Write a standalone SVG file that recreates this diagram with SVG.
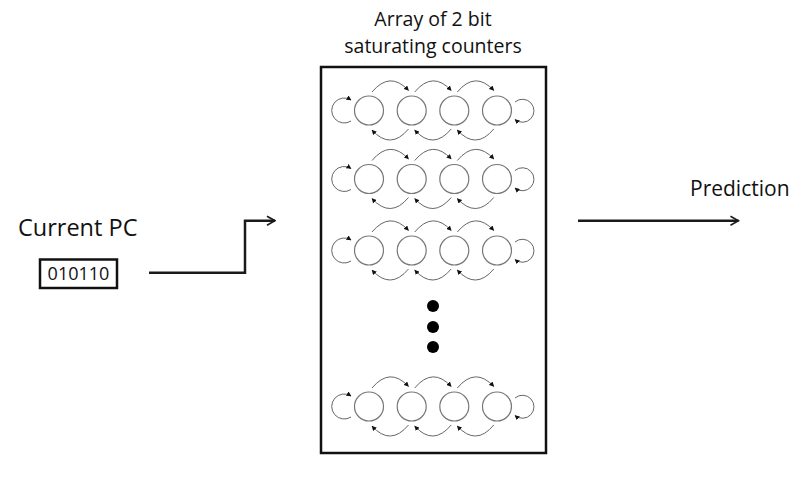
<svg xmlns="http://www.w3.org/2000/svg" width="800" height="483" viewBox="0 0 800 483">
<style>
.t{font-family:"Open Sans","Noto Sans",sans-serif;fill:#111}
.st{fill:none;stroke:#777;stroke-width:1.2}
.ar{fill:none;stroke:#666;stroke-width:1}
.thick{fill:none;stroke:#1a1a1a;stroke-width:2.5}
</style>
<defs>
<marker id="ah" viewBox="0 0 10 10" refX="9" refY="5" markerWidth="5" markerHeight="5" markerUnits="userSpaceOnUse" orient="auto">
<path d="M0,0 L10,5 L0,10 z" fill="#111"/>
</marker>
<marker id="chev" viewBox="0 0 10 10" refX="9" refY="5" markerWidth="10" markerHeight="16" markerUnits="userSpaceOnUse" orient="auto">
<path d="M1,0.5 L9,5 L1,9.5" fill="none" stroke="#1a1a1a" stroke-width="1.6"/>
</marker>
<g id="row">
<circle class="st" cx="369" cy="0" r="14.5"/>
<circle class="st" cx="411.7" cy="0" r="14.5"/>
<circle class="st" cx="454.3" cy="0" r="14.5"/>
<circle class="st" cx="497" cy="0" r="14.5"/>
<path class="ar" marker-end="url(#ah)" d="M351,10.5 A12.5,12.5 0 1 1 351,-10.5"/>
<path class="ar" marker-end="url(#ah)" d="M515,-8.5 A11.5,11.5 0 1 1 515,9"/>
<path class="ar" marker-end="url(#ah)" d="M372,-18.5 Q390,-40 408.5,-20"/>
<path class="ar" marker-end="url(#ah)" d="M414.7,-18.5 Q432.7,-40 451.2,-20"/>
<path class="ar" marker-end="url(#ah)" d="M457.3,-18.5 Q475.3,-40 493.8,-20"/>
<path class="ar" marker-end="url(#ah)" d="M408.5,18.5 Q390.5,40 372,19.5"/>
<path class="ar" marker-end="url(#ah)" d="M451.2,18.5 Q433.2,40 414.7,19.5"/>
<path class="ar" marker-end="url(#ah)" d="M493.8,18.5 Q475.8,40 457.3,19.5"/>
</g>
</defs>
<g id="title">
<text class="t" x="433" y="26" font-size="19.5" text-anchor="middle">Array of 2 bit</text>
<text class="t" x="433" y="53" font-size="19.5" text-anchor="middle">saturating counters</text>
</g>
<g id="counter-array">
<rect x="321" y="67" width="225" height="386" fill="none" stroke="#111" stroke-width="2.5"/>
<g id="row1"><use href="#row" transform="translate(0,110.5)"/></g>
<g id="row2"><use href="#row" transform="translate(0,179)"/></g>
<g id="row3"><use href="#row" transform="translate(0,250.5)"/></g>
<g id="ellipsis">
<circle cx="433" cy="306" r="6" fill="#000"/>
<circle cx="433" cy="327" r="6" fill="#000"/>
<circle cx="433" cy="347" r="6" fill="#000"/>
</g>
<g id="row4"><use href="#row" transform="translate(0,406.5)"/></g>
</g>
<g id="current-pc">
<text class="t" x="18" y="236" font-size="23.5">Current PC</text>
<rect x="40" y="259.5" width="77" height="28.5" fill="#fff" stroke="#111" stroke-width="2.5"/>
<text class="t" x="78.5" y="280" font-size="18" text-anchor="middle">010110</text>
</g>
<g id="prediction">
<text class="t" x="690" y="196" font-size="21">Prediction</text>
</g>
<g id="connectors">
<path class="thick" marker-end="url(#chev)" d="M149,272.7 H245 V220.7 H275"/>
<path class="thick" marker-end="url(#chev)" d="M578,220.7 H738.5"/>
</g>
</svg>
